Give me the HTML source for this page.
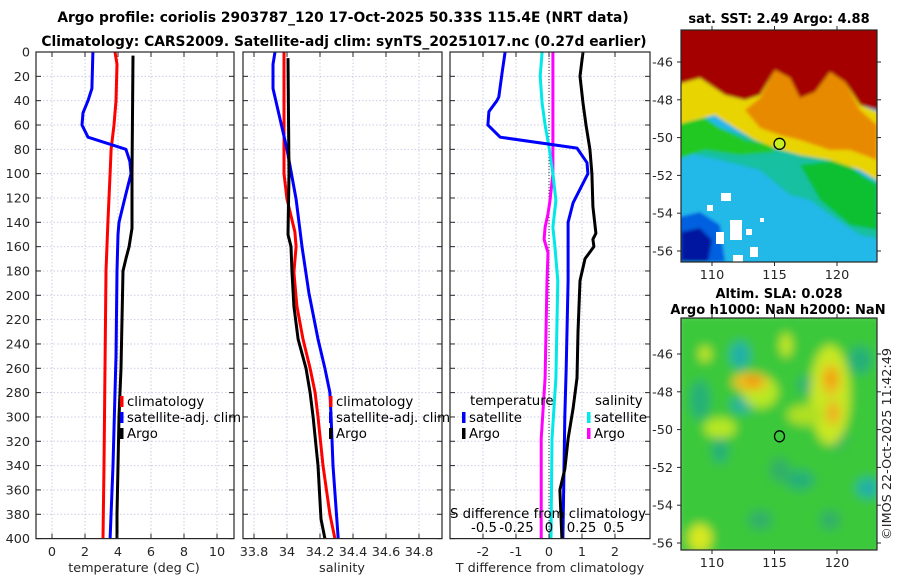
<!DOCTYPE html>
<html><head><meta charset="utf-8"><style>
html,body{margin:0;padding:0;background:#fff;}
svg{display:block;font-family:"DejaVu Sans","Liberation Sans",sans-serif;}
.tl{font-size:12.8px;fill:#262626;}
.lg{font-size:13.3px;fill:#000;}
.tt{font-size:13.8px;font-weight:bold;fill:#000;}
.mt{font-size:13px;font-weight:bold;fill:#000;}
</style></head><body>
<svg id="fig" width="900" height="580" viewBox="0 0 900 580" xmlns="http://www.w3.org/2000/svg">
<defs>
<clipPath id="c1"><rect x="36" y="52" width="198" height="487"/></clipPath>
<clipPath id="c2"><rect x="243" y="52" width="199" height="487"/></clipPath>
<clipPath id="c3"><rect x="450" y="52" width="200" height="487"/></clipPath>
<clipPath id="cm1"><rect x="681" y="30" width="196" height="232"/></clipPath>
<clipPath id="cm2"><rect x="681" y="318" width="196" height="232"/></clipPath>
<filter id="bl1"><feGaussianBlur stdDeviation="1.5"/></filter>
<filter id="bl2"><feGaussianBlur stdDeviation="5"/></filter>
</defs>
<text class="tt" x="343" y="22" text-anchor="middle">Argo profile: coriolis 2903787_120 17-Oct-2025 50.33S 115.4E (NRT data)</text>
<text class="tt" x="344" y="46" text-anchor="middle">Climatology: CARS2009. Satellite-adj clim: synTS_20251017.nc (0.27d earlier)</text>
<g id="maps"></g>
<g id="panels"></g>
</svg>
<script>
// ---------------- DATA ----------------
const tickDepths = [0,20,40,60,80,100,120,140,160,180,200,220,240,260,280,300,320,340,360,380,400];
const tempTicks = [0,2,4,6,8,10];
const salTicks = [33.8,34,34.2,34.4,34.6,34.8];
const salTickLabels = ["33.8","34","34.2","34.4","34.6","34.8"];
const dTTicks = [-2,-1,0,1,2];
const dSTicks = [-0.5,-0.25,0,0.25,0.5];
const dSTickLabels = ["-0.5","-0.25","0","0.25","0.5"];

const tSatDepth = [0,30,40,50,60,70,80,90,100,120,140,150,180,250,340,400];
const tSatVal   = [2.48,2.42,2.18,1.88,1.82,2.18,4.48,4.72,4.79,4.42,4.06,4.0,3.94,3.88,3.7,3.52];
const tClimDepth = [0,10,40,60,80,100,140,180,260,340,400];
const tClimVal   = [3.82,3.94,3.88,3.76,3.58,3.52,3.39,3.27,3.21,3.15,3.09];
const tArgoDepth = [3,100,145,150,160,170,180,220,260,300,340,380,400];
const tArgoVal   = [4.91,4.85,4.85,4.79,4.67,4.48,4.3,4.24,4.18,4.06,4.0,3.94,3.94];

const sSatDepth = [0,10,30,80,121,160,198,236,260,280,300,340,400];
const sSatVal   = [33.927,33.915,33.915,34.0,34.055,34.091,34.133,34.188,34.23,34.26,34.267,34.279,34.31];
const sClimDepth = [0,100,121,148,160,181,209,236,260,280,300,340,380,400];
const sClimVal   = [33.982,33.982,34.0,34.048,34.055,34.042,34.06,34.097,34.14,34.17,34.188,34.218,34.26,34.29];
const sArgoDepth = [5,100,150,160,181,209,236,260,280,300,340,384,400];
const sArgoVal   = [34.006,34.012,34.006,34.024,34.03,34.042,34.067,34.115,34.14,34.158,34.188,34.206,34.23];

const dTSatDepth = [0,17,37,40,49,60,70,79,91,100,124,140,188,260,300,400];
const dTSatVal   = [-1.33,-1.42,-1.52,-1.58,-1.82,-1.85,-1.48,0.85,1.15,1.18,0.73,0.58,0.58,0.52,0.48,0.42];
const dTArgoDepth = [0,20,42,60,80,100,127,149,154,160,170,188,230,268,293,318,343,360,400];
const dTArgoVal   = [1.03,0.94,1.03,1.12,1.24,1.3,1.33,1.42,1.33,1.36,1.09,0.94,0.88,0.85,0.73,0.58,0.48,0.33,0.39];
const dSSatDepth = [0,20,42,60,78,100,122,144,160,188,268,318,400];
const dSSatVal   = [-0.053,-0.068,-0.053,-0.03,0,0.03,0.053,0.03,0.045,0.068,0.053,0.023,0.015];
const dSArgoDepth = [0,78,100,122,133,144,154,165,188,268,318,400];
const dSArgoVal   = [0.03,0.03,0.03,0.008,-0.008,-0.03,-0.038,-0.008,-0.015,-0.03,-0.06,-0.06];

const latTicks = [-46,-48,-50,-52,-54,-56];
const lonTicks = [110,115,120];
const sstTitle = "sat. SST: 2.49 Argo: 4.88";
const argoLon = [115.4];
const argoLat = [-50.33];

// ---------------- HELPERS ----------------
const NS="http://www.w3.org/2000/svg";
function mk(tag, attrs, parent){const e=document.createElementNS(NS,tag);for(const k in attrs)e.setAttribute(k,attrs[k]);parent.appendChild(e);return e;}
function txt(s, attrs, parent){const e=mk('text',attrs,parent);e.textContent=s;return e;}
const Y0=52, Y1=538.6;
const yD = d => Y0 + (Y1-Y0)*d/400;
function lin(d0,d1,r0,r1){return v=>r0+(v-d0)*(r1-r0)/(d1-d0);}
const xT = lin(0,10,52,217);
const xS = lin(34,34.8,287,419);
const xdT = lin(0,2,549,615);
const xdS = lin(0,0.5,549,614);
const panels = document.getElementById('panels');

function frame(x0,x1,name,clip){
  const g=mk('g',{},panels);
  
  
  const grid=mk('g',{'clip-path':'url(#'+clip+')'},g);
  return {g,grid,x0,x1};
}
function hgrid(p){
  tickDepths.forEach(d=>{
    mk('line',{x1:p.x0,x2:p.x1,y1:yD(d),y2:yD(d),stroke:'#c9cde6','stroke-width':1,'stroke-dasharray':'1.5,2'},p.grid);
    mk('line',{x1:p.x0,x2:p.x0+5,y1:yD(d),y2:yD(d),stroke:'#262626'},p.g);
    mk('line',{x1:p.x1,x2:p.x1-5,y1:yD(d),y2:yD(d),stroke:'#262626'},p.g);
  });
}
function vtick(p,x,label,name){
  mk('line',{x1:x,x2:x,y1:Y0,y2:Y1,stroke:'#c9cde6','stroke-width':1,'stroke-dasharray':'1.5,2'},p.grid);
  mk('line',{x1:x,x2:x,y1:Y1,y2:Y1-5,stroke:'#262626'},p.g);
  mk('line',{x1:x,x2:x,y1:Y0,y2:Y0+5,stroke:'#262626'},p.g);
  const t=txt(label,{class:'tl',x:x,y:556,'text-anchor':'middle'},p.g);
  
  
}
function series(p,depths,vals,xf,color,name){
  const pts=depths.map((d,i)=>xf(vals[i]).toFixed(1)+','+yD(d).toFixed(1)).join(' ');
  const l=mk('polyline',{points:pts,fill:'none',stroke:color,'stroke-width':3,'stroke-linejoin':'round'},p.grid);
  
  
}
function box(p){mk('rect',{x:p.x0,y:Y0,width:p.x1-p.x0,height:Y1-Y0,fill:'none',stroke:'#262626','stroke-width':1.2},p.g);}
function legend(parent,x,y,label,color,name){
  const g=mk('g',{},parent);
  
  
  mk('rect',{x:x,y:y-10,width:3.5,height:11,fill:color},g);
  txt(label,{class:'lg',x:x+7,y:y},g);
}

// ---------------- PANEL 1: temperature ----------------
const p1=frame(36,234,'temperature-panel','c1');
hgrid(p1);
tickDepths.forEach(d=>{const t=txt(String(d),{class:'tl',x:30,y:yD(d)+4.5,'text-anchor':'end'},p1.g);
  
  });
tempTicks.forEach(v=>vtick(p1,xT(v),String(v),'temperature-tick-label'));
series(p1,tClimDepth,tClimVal,xT,'#ff0000','temperature-climatology-line');
series(p1,tSatDepth,tSatVal,xT,'#0000ff','temperature-satellite-line');
series(p1,tArgoDepth,tArgoVal,xT,'#000000','temperature-argo-line');
box(p1);
txt('temperature (deg C)',{class:'tl',x:134,y:572,'text-anchor':'middle',},p1.g);
legend(p1.g,120,406,'climatology','#ff0000','legend-climatology');
legend(p1.g,120,422,'satellite-adj. clim','#0000ff','legend-satellite');
legend(p1.g,120,438,'Argo','#000000','legend-argo');

// ---------------- PANEL 2: salinity ----------------
const p2=frame(243,442,'salinity-panel','c2');
hgrid(p2);
salTicks.forEach((v,i)=>vtick(p2,xS(v),salTickLabels[i],'salinity-tick-label'));
series(p2,sClimDepth,sClimVal,xS,'#ff0000','salinity-climatology-line');
series(p2,sSatDepth,sSatVal,xS,'#0000ff','salinity-satellite-line');
series(p2,sArgoDepth,sArgoVal,xS,'#000000','salinity-argo-line');
box(p2);
txt('salinity',{class:'tl',x:342,y:572,'text-anchor':'middle',},p2.g);
legend(p2.g,329,406,'climatology','#ff0000','legend-climatology');
legend(p2.g,329,422,'satellite-adj. clim','#0000ff','legend-satellite');
legend(p2.g,329,438,'Argo','#000000','legend-argo');

// ---------------- PANEL 3: differences ----------------
const p3=frame(450,650,'difference-panel','c3');
hgrid(p3);
dTTicks.forEach(v=>vtick(p3,xdT(v),String(v),'t-difference-tick-label'));
mk('line',{x1:549,x2:549,y1:Y0,y2:Y1,stroke:'#333','stroke-width':1,'stroke-dasharray':'1,2'},p3.grid);
series(p3,dSArgoDepth,dSArgoVal,xdS,'#ff00ff','s-diff-argo-line');
series(p3,dSSatDepth,dSSatVal,xdS,'#00e8e8','s-diff-satellite-line');
series(p3,dTSatDepth,dTSatVal,xdT,'#0000ff','t-diff-satellite-line');
series(p3,dTArgoDepth,dTArgoVal,xdT,'#000000','t-diff-argo-line');
box(p3);
dSTicks.forEach((v,i)=>{const t=txt(dSTickLabels[i],{class:'lg',x:xdS(v),y:532,'text-anchor':'middle'},p3.g);
  
  });
txt('S difference from climatology',{class:'lg',x:548,y:518,'text-anchor':'middle',},p3.g);
txt('T difference from climatology',{class:'tl',x:550,y:572,'text-anchor':'middle',},p3.g);
txt('temperature',{class:'lg',x:470,y:405,},p3.g);
txt('salinity',{class:'lg',x:595,y:405,},p3.g);
legend(p3.g,462,422,'satellite','#0000ff','legend-t-satellite');
legend(p3.g,462,438,'Argo','#000000','legend-t-argo');
legend(p3.g,587,422,'satellite','#00e8e8','legend-s-satellite');
legend(p3.g,587,438,'Argo','#ff00ff','legend-s-argo');

// ---------------- MAPS ----------------
const maps=document.getElementById('maps');
const xLon = lin(110,120,712,837);
function mapAxes(g,top,bottom,latTop){
  const yL = lin(-46,-56,latTop,latTop+189);
  mk('rect',{x:681,y:top,width:196,height:bottom-top,fill:'none',stroke:'#262626','stroke-width':1.2},g);
  latTicks.forEach(v=>{const y=yL(v);
    mk('line',{x1:681,x2:677,y1:y,y2:y,stroke:'#262626'},g);
    mk('line',{x1:877,x2:881,y1:y,y2:y,stroke:'#262626'},g);
    const t=txt(String(v),{class:'tl',x:673,y:y+4.5,'text-anchor':'end'},g);
    
    });
  lonTicks.forEach(v=>{const x=xLon(v);
    mk('line',{x1:x,x2:x,y1:bottom,y2:bottom+4,stroke:'#262626'},g);
    mk('line',{x1:x,x2:x,y1:top,y2:top-4,stroke:'#262626'},g);
    const t=txt(String(v),{class:'tl',x:x,y:bottom+17,'text-anchor':'middle'},g);
    
    });
  return yL;
}
// SST map
const m1=mk('g',{},maps);


const m1c=mk('g',{'clip-path':'url(#cm1)'},m1);
const m1f=mk('g',{filter:'url(#bl1)'},m1c);
mk('rect',{x:675,y:25,width:210,height:245,fill:'#20b8e8'},m1f);
mk('polygon',{points:'675,125 700,118 720,128 760,140 800,150 830,160 860,175 885,185 885,240 860,235 830,215 810,200 790,195 760,170 720,160 675,150',fill:'#14c0a0'},m1f);
mk('polygon',{points:'800,165 840,160 877,185 877,230 850,225 820,200',fill:'#10c030'},m1f);
mk('polygon',{points:'675,125 705,118 720,128 745,140 770,145 775,152 740,155 705,150 675,160',fill:'#20c820'},m1f);
mk('polygon',{points:'675,85 700,78 725,95 745,100 760,95 775,70 790,78 800,98 815,92 830,72 845,82 860,105 885,115 885,185 860,170 830,160 800,155 775,148 755,140 735,128 715,115 695,120 675,125',fill:'#e8d400'},m1f);
mk('polygon',{points:'745,110 760,98 775,70 790,78 800,98 815,92 830,72 845,82 860,110 877,125 877,160 850,150 830,150 800,140 780,135 760,128',fill:'#e88a00'},m1f);
mk('polygon',{points:'675,25 885,25 885,112 860,105 845,82 830,72 815,92 800,98 790,78 775,70 760,95 745,100 725,95 700,78 675,85',fill:'#a50000'},m1f);
mk('polygon',{points:'675,218 700,212 720,225 725,262 675,262',fill:'#0060e0'},m1f);
mk('polygon',{points:'681,232 700,228 712,240 708,262 681,262',fill:'#0018a0'},m1f);
[[721,193,10,8],[707,205,6,6],[730,220,12,20],[716,232,8,12],[746,229,6,6],[750,247,8,10],[733,255,10,8],[760,218,4,4]].forEach(r=>mk('rect',{x:r[0],y:r[1],width:r[2],height:r[3],fill:'#ffffff'},m1c));
const yL1=mapAxes(m1,30,262,62);
mk('circle',{cx:xLon(argoLon[0]),cy:yL1(argoLat[0]),r:5.5,fill:'#c8f020',stroke:'#000','stroke-width':1.3,},m1);
txt(sstTitle,{class:'mt',x:779,y:23,'text-anchor':'middle',},m1);

// SLA map
const m2=mk('g',{},maps);


const m2c=mk('g',{'clip-path':'url(#cm2)'},m2);
const m2f=mk('g',{filter:'url(#bl2)'},m2c);
mk('rect',{x:675,y:312,width:210,height:245,fill:'#3ac83a'},m2f);
[[740,355,10,14,'#20b0a8'],[742,405,12,8,'#20b0a0'],[720,450,8,14,'#28b078'],[810,385,12,10,'#28b078'],[860,360,12,14,'#28b078'],[868,488,12,10,'#20b0a8'],[800,480,14,10,'#28b078'],[700,400,10,20,'#28b078'],[780,470,10,12,'#30b068'],[835,435,12,14,'#30b068'],[760,520,12,10,'#30b068'],[830,520,10,10,'#30b068']].forEach(e=>mk('ellipse',{cx:e[0],cy:e[1],rx:e[2],ry:e[3],fill:e[4]},m2f));
[[760,392,18,16,'#b8e820'],[830,395,20,50,'#c8e820'],[720,428,16,10,'#b8e820'],[700,538,12,14,'#d8e820'],[805,415,18,10,'#b0e020'],[786,345,6,12,'#c8e820'],[705,354,6,8,'#c8e820']].forEach(e=>mk('ellipse',{cx:e[0],cy:e[1],rx:e[2],ry:e[3],fill:e[4]},m2f));
[[750,382,18,9,'#f0c020'],[831,380,9,16,'#f0b820'],[833,413,7,12,'#f0b020']].forEach(e=>mk('ellipse',{cx:e[0],cy:e[1],rx:e[2],ry:e[3],fill:e[4]},m2f));
[[753,381,8,5,'#f09000'],[831,378,5,7,'#f09800']].forEach(e=>mk('ellipse',{cx:e[0],cy:e[1],rx:e[2],ry:e[3],fill:e[4]},m2f));
const yL2=mapAxes(m2,318,550,354);
mk('ellipse',{cx:xLon(argoLon[0]),cy:yL2(argoLat[0])+0.5,rx:5,ry:5.5,fill:'none',stroke:'#000','stroke-width':1.3,},m2);
txt('Altim. SLA: 0.028',{class:'mt',x:779,y:298,'text-anchor':'middle',},m2);
txt('Argo h1000: NaN h2000: NaN',{class:'mt',x:778,y:314,'text-anchor':'middle',},m2);
txt('©IMOS 22-Oct-2025 11:42:49',{class:'tl',x:0,y:0,'text-anchor':'middle',transform:'translate(891,444) rotate(-90)',},m2);
</script>
</body></html>
